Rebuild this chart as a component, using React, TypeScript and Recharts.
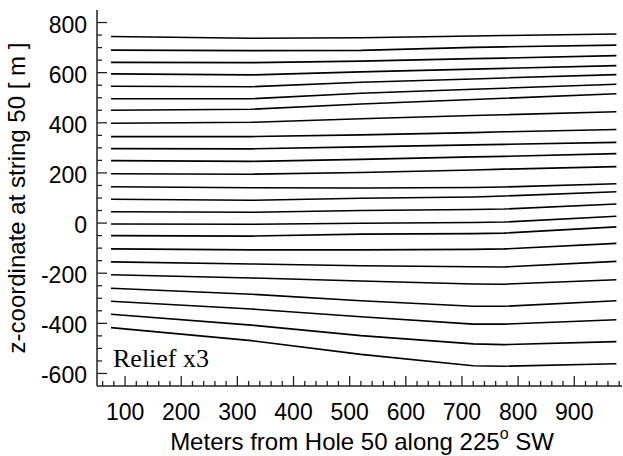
import React from 'react';
import { LineChart, Line, XAxis, YAxis, Customized } from 'recharts';

// distance along the profile (m) where each contour was sampled
const xs = [75, 325, 520, 720, 775, 975];

// z-coordinate of each contour at the sample positions (top to bottom)
const upperLines = [
  [744, 737, 739, 746, 748, 754],
  [690, 688, 689, 701, 703, 710],
  [641, 640, 646, 656, 658, 668],
  [595, 591, 603, 614, 617, 628],
  [546, 544, 562, 575, 579, 592],
  [496, 496, 518, 534, 538, 554],
  [450, 454, 475, 493, 498, 516],
  [398, 402, 416, 429, 432, 444],
  [345, 345, 352, 361, 364, 373],
  [297, 296, 304, 312, 314, 322],
  [249, 246, 254, 264, 266, 277],
  [197, 195, 202, 212, 215, 225],
];

const lowerLines = [
  [145, 141, 140, 142, 144, 157],
  [95, 91, 99, 104, 108, 125],
  [45, 43, 50, 54, 56, 76],
  [-4, -5, -1, 2, 4, 27],
  [-50, -52, -44, -42, -40, -15],
  [-103, -107, -107, -105, -103, -81],
  [-155, -163, -170, -174, -175, -153],
  [-206, -219, -231, -243, -244, -226],
  [-260, -284, -310, -332, -332, -310],
  [-312, -343, -374, -403, -403, -386],
  [-364, -407, -449, -482, -485, -473],
  [-417, -469, -524, -569, -571, -561],
];

const xTicks = [60, 80, 100, 120, 140, 160, 180, 200, 220, 240, 260, 280, 300, 320, 340, 360, 380, 400, 420, 440, 460, 480, 500, 520, 540, 560, 580, 600, 620, 640, 660, 680, 700, 720, 740, 760, 780, 800, 820, 840, 860, 880, 900, 920, 940, 960, 980];
const yTicks = [-600, -550, -500, -450, -400, -350, -300, -250, -200, -150, -100, -50, 0, 50, 100, 150, 200, 250, 300, 350, 400, 450, 500, 550, 600, 650, 700, 750, 800];

const allLines = [...upperLines, ...lowerLines];
const chartData = xs.map((x, i) => {
  const row: Record<string, number> = { x };
  allLines.forEach((line, j) => {
    row[`c${j}`] = line[i];
  });
  return row;
});

const SANS = '"Liberation Sans", Arial, Helvetica, sans-serif';
const SERIF = '"Liberation Serif", "Times New Roman", serif';

const XTick = (props: any) => {
  const { x, y, payload } = props;
  const v = payload.value;
  const major = v % 100 === 0;
  return (
    <g>
      <line x1={x} x2={x} y1={y} y2={y - (major ? 10 : 5)} stroke="#222" strokeWidth={1.3} />
      {major && (
        <text x={x} y={y + 34} textAnchor="middle" fontSize={23} fontFamily={SANS} fill="#000">
          {v}
        </text>
      )}
    </g>
  );
};

const YTick = (props: any) => {
  const { x, y, payload } = props;
  const v = payload.value;
  const major = v % 200 === 0;
  return (
    <g>
      <line x1={x} x2={x + (major ? 10 : 5)} y1={y} y2={y} stroke="#222" strokeWidth={1.3} />
      {major && (
        <text x={x - 10} y={y + 10} textAnchor="end" fontSize={23} fontFamily={SANS} fill="#000">
          {v}
        </text>
      )}
    </g>
  );
};

const Labels = () => (
  <g>
    <text x={113} y={367} fontSize={26} fontFamily={SERIF} fill="#000">
      Relief x3
    </text>
    <text
      x={25}
      y={198}
      transform="rotate(-90 25 198)"
      textAnchor="middle"
      fontSize={24}
      fontFamily={SANS}
      fill="#000"
    >
      z-coordinate at string 50 [ m ]
    </text>
    <text x={362} y={450} textAnchor="middle" fontSize={24} fontFamily={SANS} fill="#000">
      Meters from Hole 50 along 225
      <tspan fontSize={16} dy={-11}>o</tspan>
      <tspan dy={11}> SW</tspan>
    </text>
  </g>
);

const App = () => {
  return (
    <div style={{ position: 'absolute', left: 0, top: 0, width: 623, height: 456, background: '#fff' }}>
      <LineChart width={623} height={456} data={chartData} margin={{ top: 10, right: 1, bottom: 0, left: 0 }}>
        <XAxis
          dataKey="x"
          type="number"
          domain={[50, 985]}
          ticks={xTicks}
          interval={0}
          height={70}
          tickSize={0}
          tickMargin={0}
          tickLine={false}
          tick={XTick}
          axisLine={{ stroke: '#222', strokeWidth: 1.5 }}
          allowDataOverflow
        />
        <XAxis
          xAxisId="top"
          orientation="top"
          dataKey="x"
          type="number"
          domain={[50, 985]}
          height={0}
          tick={false}
          tickLine={false}
          axisLine={{ stroke: '#666', strokeWidth: 2 }}
        />
        <YAxis
          type="number"
          domain={[-650, 850]}
          ticks={yTicks}
          interval={0}
          width={97}
          tickSize={0}
          tickMargin={0}
          tickLine={false}
          tick={YTick}
          axisLine={{ stroke: '#222', strokeWidth: 1.5 }}
          allowDataOverflow
        />
        {allLines.map((_, j) => (
          <Line
            key={`c${j}`}
            dataKey={`c${j}`}
            type="linear"
            stroke="#000"
            strokeWidth={1.6}
            dot={false}
            isAnimationActive={false}
          />
        ))}
        <Customized component={Labels} />
      </LineChart>
    </div>
  );
};

export default App;
